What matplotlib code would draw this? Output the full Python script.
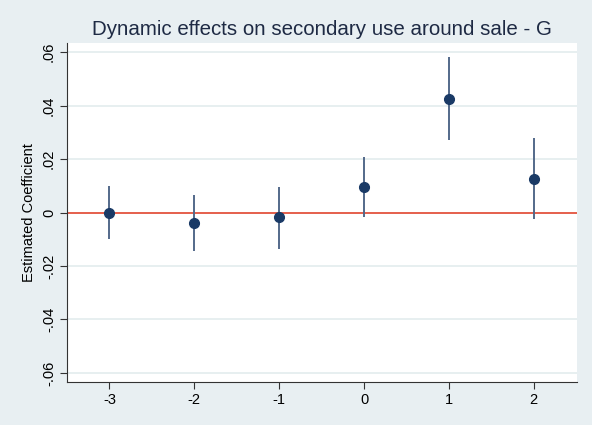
import matplotlib
matplotlib.use("Agg")
import matplotlib.pyplot as plt

# event time relative to sale, point estimates and 95% CI bounds
periods = [-3, -2, -1, 0, 1, 2]
coef = [0.0, -0.0038, -0.0018, 0.0095, 0.0423, 0.0125]
ci_low = [-0.0100, -0.0143, -0.0137, -0.0017, 0.0271, -0.0025]
ci_high = [0.0100, 0.0066, 0.0095, 0.0207, 0.0580, 0.0280]

y_ticks = [-0.06, -0.04, -0.02, 0, 0.02, 0.04, 0.06]
y_labels = ["-.06", "-.04", "-.02", "0", ".02", ".04", ".06"]

plt.rcParams["font.family"] = ["Liberation Sans", "DejaVu Sans"]

bg = "#e8eff2"
fig = plt.figure(figsize=(5.92, 4.25), dpi=100, facecolor=bg)
ax = fig.add_axes([0.1132, 0.1012, 0.8615, 0.7976])
ax.set_facecolor("white")

for y in y_ticks:
    ax.axhline(y, color="#e3ecee", lw=1.2, zorder=0)
ax.axhline(0, color="#e5553f", lw=1.3, zorder=1)

ax.vlines(periods, ci_low, ci_high, color="#53698a", lw=1.4, zorder=2)
ax.plot(periods, coef, "o", color="#1a3a66", ms=7, zorder=3)

ax.set_xlim(-3.5, 2.51)
ax.set_ylim(-0.0634, 0.0634)
ax.set_xticks(periods)
ax.set_xticklabels([str(p) for p in periods])
ax.set_yticks(y_ticks)
ax.set_yticklabels(y_labels, rotation=90, va="center")
ax.tick_params(direction="out", length=5, width=0.8, colors="#333333",
               labelcolor="black", labelsize=10.5, pad=3)

for side in ["top", "right"]:
    ax.spines[side].set_visible(False)
for side in ["left", "bottom"]:
    ax.spines[side].set_color("#333333")
    ax.spines[side].set_linewidth(0.8)

ax.set_ylabel("Estimated Coefficient", fontsize=10.5, labelpad=4)
ax.set_title("Dynamic effects on secondary use around sale - G",
             fontsize=14.8, color="#1e2a44", pad=6)

fig.savefig("out.png", dpi=100, facecolor=bg)
